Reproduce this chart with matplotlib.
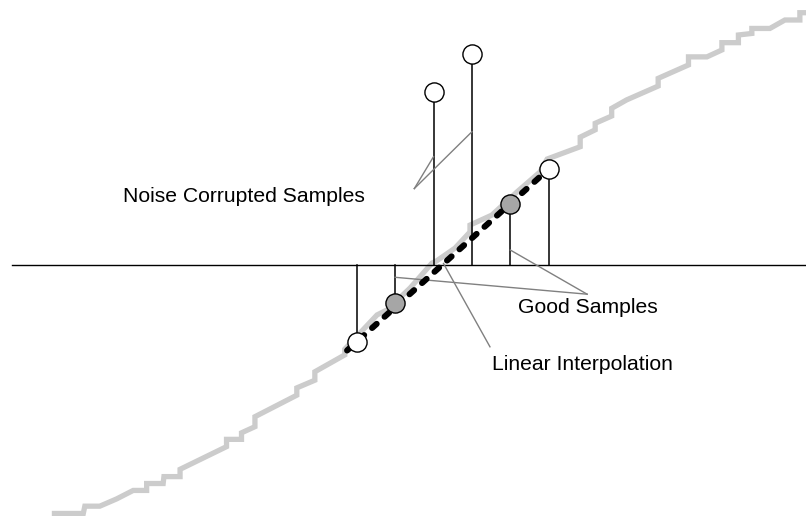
import numpy as np
import matplotlib.pyplot as plt

plt.rcParams['font.family'] = ['Liberation Sans', 'DejaVu Sans']

# --------------------------------------------------------------------------
# Data (sample index on x, amplitude on y; axis at y = 0)
# --------------------------------------------------------------------------
sample_n = [0, 1, 2, 3, 4, 5]
sample_val = [-2.0, -1.0, 4.5, 5.5, 1.6, 2.5]
sample_good = [False, True, False, False, True, False]

# underlying (quantised) signal
signal_x = [-7.94, -7.12, -7.08, -6.69, -6.25, -5.82, -5.47, -5.47, -5.04, -5.02,
            -4.60, -4.60, -3.39, -3.39, -3.00, -3.00, -2.65, -2.65, -1.56, -1.56,
            -1.09, -1.09, -0.31, -0.31, 0.53, 0.79, 1.39, 1.96, 2.07, 2.56,
            2.95, 2.95, 3.52, 4.17, 4.77, 4.96, 5.47, 5.82, 5.82, 6.21,
            6.21, 6.64, 6.64, 7.03, 7.85, 7.85, 8.64, 8.64, 9.12, 9.51,
            9.51, 9.94, 9.94, 10.29, 10.29, 10.76, 11.15, 11.54, 11.54, 11.72]
signal_y = [-6.47, -6.47, -6.28, -6.28, -6.09, -5.87, -5.87, -5.69, -5.69, -5.51,
            -5.51, -5.32, -4.73, -4.54, -4.54, -4.37, -4.21, -3.95, -3.39, -3.20,
            -3.00, -2.78, -2.34, -2.19, -1.30, -1.17, -0.60, 0.05, 0.10, 0.44,
            0.86, 1.04, 1.30, 1.90, 2.42, 2.76, 2.95, 3.08, 3.33, 3.52,
            3.69, 3.88, 4.08, 4.30, 4.66, 4.86, 5.21, 5.42, 5.42, 5.60,
            5.79, 5.79, 5.99, 6.03, 6.16, 6.16, 6.38, 6.38, 6.57, 6.57]

axis_extent = [-8.97, 11.75]
interp_extent = [-0.25, 5.0]

# annotations: text, text anchor (left, baseline), pointer apex, pointer targets
labels = ['Noise Corrupted Samples', 'Good Samples', 'Linear Interpolation']
label_pos = [(-6.09, 1.65), (4.21, -1.24), (3.52, -2.73)]
pointer_apex = [(1.5, 1.99), (6.0, -0.76), (3.47, -2.13)]
pointer_tips = [[(2.0, 2.82), (3.0, 3.47)],
                [(1.0, -0.32), (4.0, 0.39)],
                [(2.26, 0.04)]]

# --------------------------------------------------------------------------
# Figure
# --------------------------------------------------------------------------
fig = plt.figure(figsize=(8.06, 5.16), dpi=100)
ax = fig.add_axes([0, 0, 1, 1])
ax.set_xlim(-9.289, 11.70)
ax.set_ylim(-6.536, 6.901)
ax.axis('off')

# quantised signal
ax.plot(signal_x, signal_y, color='#cccccc', lw=3.8, solid_joinstyle='miter',
        solid_capstyle='butt', zorder=1)

# time axis
ax.plot(axis_extent, [0, 0], color='black', lw=1.0, zorder=2)

# stems
for n, v in zip(sample_n, sample_val):
    ax.plot([n, n], [0, v], color='black', lw=1.1, zorder=3)

# pointer lines
for apex, tips in zip(pointer_apex, pointer_tips):
    for tip in tips:
        ax.plot([apex[0], tip[0]], [apex[1], tip[1]], color='#808080',
                lw=1.0, zorder=3)

# linear interpolation between the first and last sample
slope = (sample_val[-1] - sample_val[0]) / (sample_n[-1] - sample_n[0])
ix = np.array(interp_extent)
iy = sample_val[0] + slope * (ix - sample_n[0])
ax.plot(ix, iy, color='black', lw=4.4, dashes=(1.0, 1.75),
        dash_capstyle='round', zorder=4)

# sample markers
for n, v, g in zip(sample_n, sample_val, sample_good):
    ax.plot(n, v, 'o', ms=13.8, mfc='#a6a6a6' if g else 'white',
            mec='black', mew=1.0, zorder=5)

# labels
for txt, (tx, ty) in zip(labels, label_pos):
    ax.text(tx, ty, txt, fontsize=15.2, ha='left', va='baseline', zorder=6)

fig.savefig('out.png', dpi=100)
